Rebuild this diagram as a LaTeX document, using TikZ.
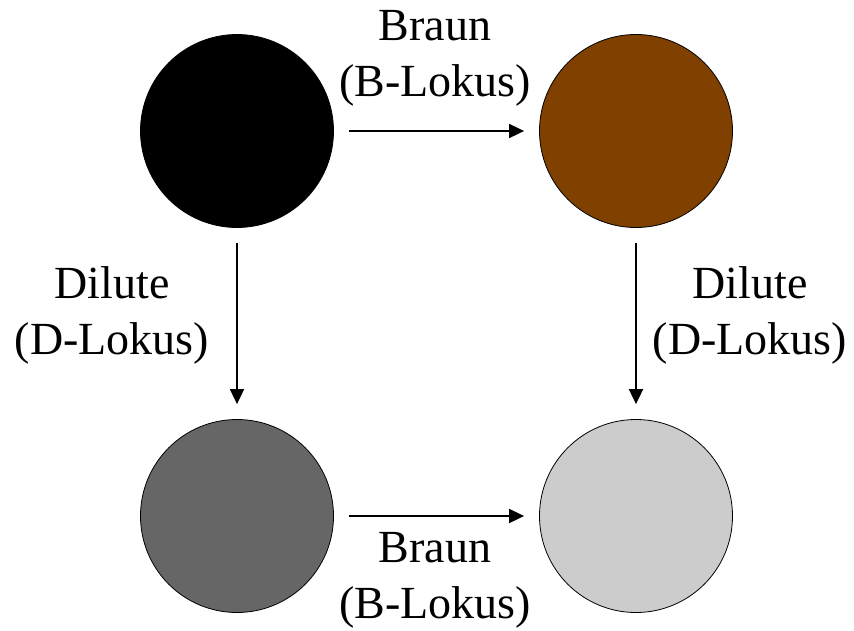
\documentclass[tikz,border=0pt]{standalone}
\usepackage{fontspec}
\setmainfont{Liberation Serif}
\usetikzlibrary{arrows.meta}
\definecolor{brownc}{RGB}{128,64,0}
\definecolor{darkg}{RGB}{102,102,102}
\definecolor{lightg}{RGB}{204,204,204}
\begin{document}
\begin{tikzpicture}[x=1pt,y=-1pt,
  dot/.style={circle,draw=black,line width=0.8pt,minimum size=193pt,inner sep=0pt},
  lbl/.style={align=center,font=\fontsize{46}{56}\selectfont,inner sep=0pt},
  conn/.style={line width=1.8pt,-{Triangle[length=15pt,width=14pt]},shorten <=15pt,shorten >=15pt}]
\useasboundingbox (0,0) rectangle (854,630);
\node[dot,fill=black] (bl) at (237,131) {};
\node[dot,fill=brownc] (br) at (636,131) {};
\node[dot,fill=darkg] (dg) at (237,516) {};
\node[dot,fill=lightg] (lg) at (636,516) {};
\draw[conn] (bl) -- (br);
\draw[conn] (dg) -- (lg);
\draw[conn] (bl) -- (dg);
\draw[conn] (br) -- (lg);
\node[lbl] (t1) at (435,58) {Braun\\(B-Lokus)};
\node[lbl] (t2) at (435,580) {Braun\\(B-Lokus)};
\node[lbl] (t3) at (112,315) {Dilute\\(D-Lokus)};
\node[lbl] (t4) at (750,315) {Dilute\\(D-Lokus)};
\end{tikzpicture}
\end{document}
